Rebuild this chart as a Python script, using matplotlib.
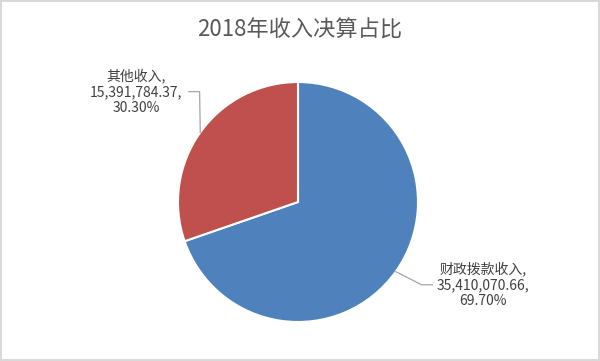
import numpy as np
import matplotlib.pyplot as plt

plt.rcParams['font.family'] = ['Noto Sans CJK SC', 'DejaVu Sans']

categories = ['财政拨款收入', '其他收入']
values = [35410070.66, 15391784.37]
colors = ['#4F81BD', '#C0504D']

fig = plt.figure(figsize=(6, 3.61), dpi=100, edgecolor='#d9d9d9', linewidth=1.5)
ax = fig.add_axes([178 / 600, 39 / 361, 240 / 600, 240 / 361])

wedges, _ = ax.pie(values, colors=colors, startangle=90, counterclock=False,
                   wedgeprops=dict(edgecolor='white', linewidth=1.5))
ax.set_xlim(-1, 1)
ax.set_ylim(-1, 1)
ax.set_aspect('equal')

fig.text(0.5, 1 - 30 / 361, '2018年收入决算占比', ha='center', va='center',
         fontsize=16, color='#595959')

total = sum(values)
# label positions (data units, pie radius = 1)
label_pos = [(1.54, -0.69), (-1.35, 0.92)]
elbow = [(1.03, -0.69), (-0.82, 0.92)]
for w, cat, v, lp, el in zip(wedges, categories, values, label_pos, elbow):
    ang = np.deg2rad((w.theta1 + w.theta2) / 2)
    ex, ey = np.cos(ang), np.sin(ang)
    txt = f'{cat},\n{v:,.2f},\n{v / total * 100:.2f}%'
    ax.text(lp[0], lp[1], txt, ha='center', va='center', fontsize=10,
            color='#404040', linespacing=1.15, clip_on=False)
    if lp[0] > 0:
        hx = el[0] + 0.09
    else:
        hx = el[0] - 0.09
    ax.plot([ex, el[0], hx], [ey, el[1], el[1]], color='#a6a6a6', lw=0.9,
            clip_on=False)

fig.savefig('out.png', dpi=100)
